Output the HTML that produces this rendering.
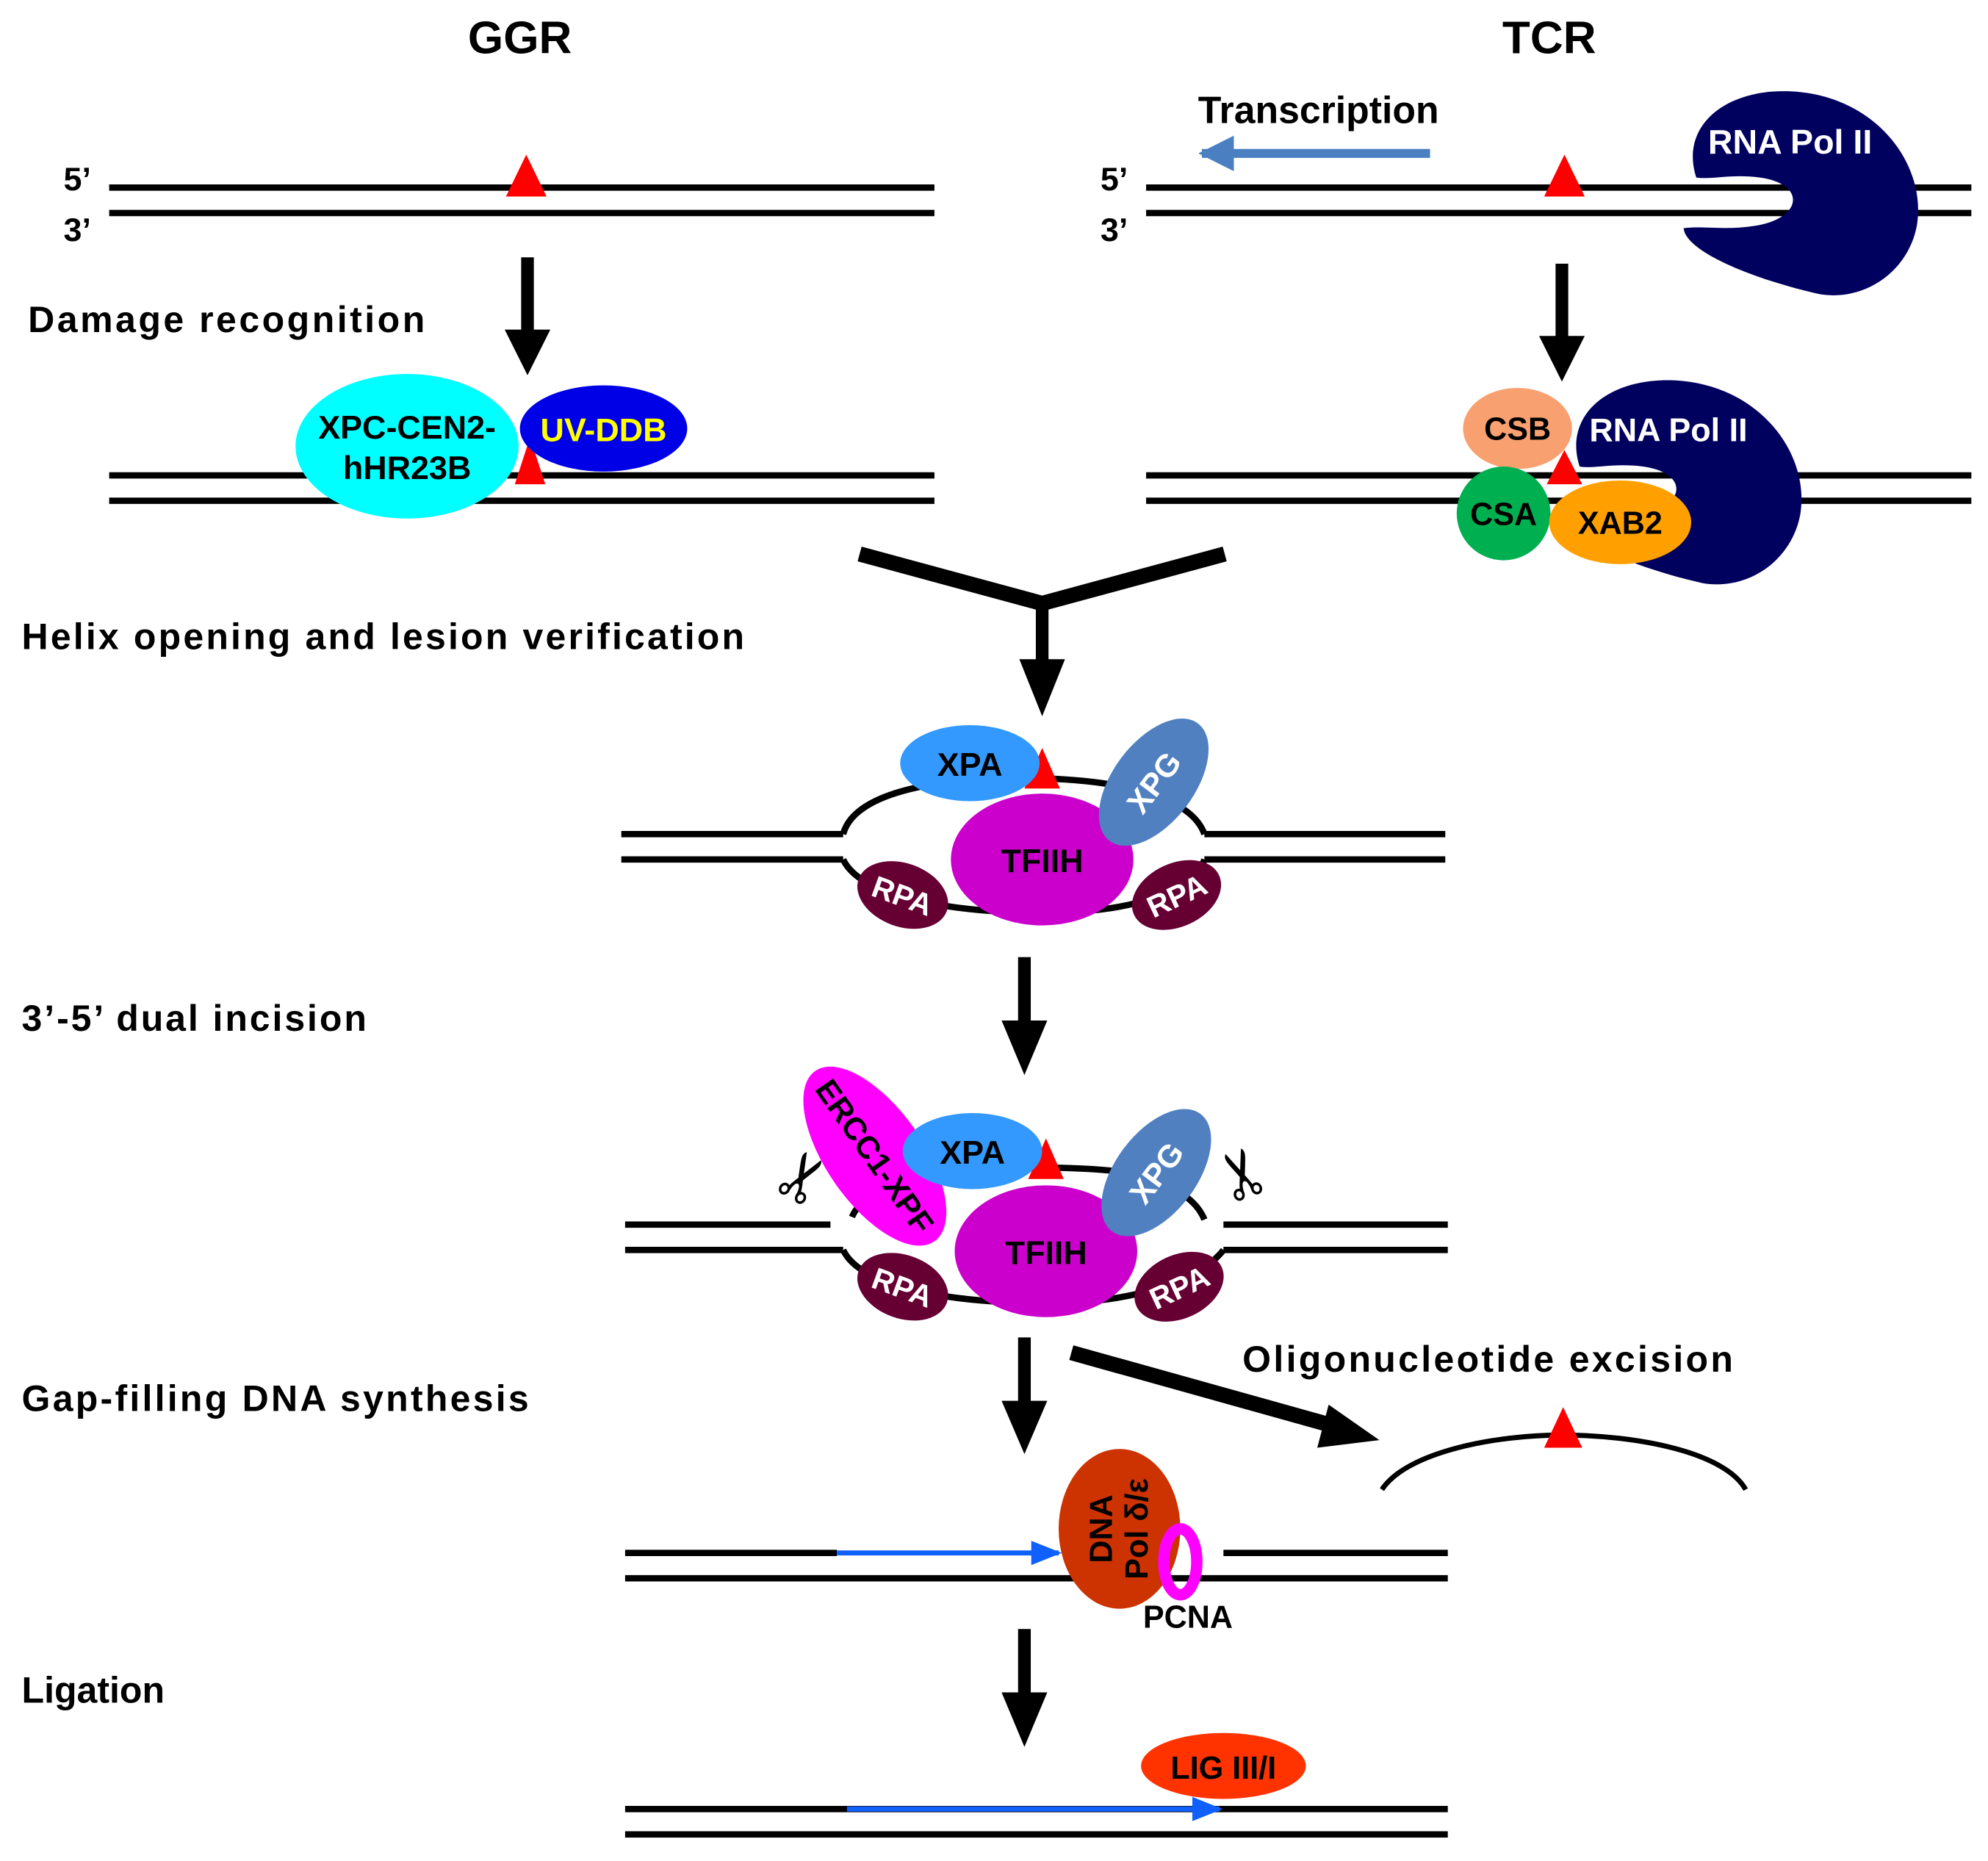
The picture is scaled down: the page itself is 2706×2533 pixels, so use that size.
<!DOCTYPE html>
<html><head><meta charset="utf-8"><style>html,body{margin:0;padding:0;background:#fff}svg{display:block}text{font-family:"Liberation Sans",sans-serif;font-weight:bold}</style></head><body>
<svg width="2706" height="2533" viewBox="0 0 1568 1468" xmlns="http://www.w3.org/2000/svg">
<defs>
<marker id="bh" viewBox="0 0 10 10" refX="9" refY="5" markerWidth="4" markerHeight="4" orient="auto" markerUnits="strokeWidth"><path d="M0,0L10,5L0,10z" fill="#4a7fc1"/></marker>
<marker id="bb" viewBox="0 0 10 10" refX="9" refY="5" markerWidth="6" markerHeight="6" orient="auto" markerUnits="strokeWidth"><path d="M0,1L10,5L0,9z" fill="#1060ff"/></marker>
<path id="pol" d="M1338,140 C1325,100 1360,70 1412,72 C1480,75 1520,130 1512,178 C1505,215 1470,238 1435,232 C1390,222 1330,200 1328,180 C1345,178 1360,182 1385,178 C1422,172 1425,145 1388,140 C1365,137 1350,142 1338,140 Z" fill="#00005f"/>
</defs>
<g fill="#000">
<text x="410" y="42" font-size="36" text-anchor="middle">GGR</text>
<text x="1222" y="42" font-size="36" text-anchor="middle">TCR</text>
<text x="1040" y="97" font-size="30" text-anchor="middle">Transcription</text>
<text x="50" y="150" font-size="26">5’</text>
<text x="50" y="190" font-size="26">3’</text>
<text x="868" y="150" font-size="26">5’</text>
<text x="868" y="190" font-size="26">3’</text>
<text x="22" y="262" font-size="29" textLength="313">Damage recognition</text>
<text x="17" y="512" font-size="29" textLength="570">Helix opening and lesion verification</text>
<text x="17" y="813" font-size="29" textLength="272">3’-5’ dual incision</text>
<text x="17" y="1113" font-size="29" textLength="400">Gap-filling DNA synthesis</text>
<text x="980" y="1082" font-size="29" textLength="387">Oligonucleotide excision</text>
<text x="17" y="1343" font-size="29">Ligation</text>
</g>
<g stroke="#000" stroke-width="5" fill="none">
<path d="M86 148H737M86 168H737M904 148H1555M904 168H1555"/>
<path d="M86 375H737M86 395H737M904 375H1555M904 395H1555"/>
</g>
<line x1="1128" y1="121" x2="948" y2="121" stroke="#4a7fc1" stroke-width="7" marker-end="url(#bh)"/>
<polygon points="415,122 399,155 431,155" fill="#f00"/>
<polygon points="1234,122 1218,155 1250,155" fill="#f00"/>
<!-- Pol II top -->
<use href="#pol"/>
<text x="1412" y="121" font-size="27" fill="#fff" text-anchor="middle">RNA Pol II</text>
<!-- arrows -->
<g fill="#000">
<rect x="411" y="203" width="10" height="58"/><polygon points="398,260 434,260 416,296"/>
<rect x="1227" y="208" width="10" height="58"/><polygon points="1214,265 1250,265 1232,301"/>
</g>
<!-- GGR row 2 -->
<polygon points="418,345 406,382 430,382" fill="#f00"/>
<ellipse cx="321" cy="352" rx="88" ry="57" fill="#00ffff"/>
<ellipse cx="476" cy="338" rx="66" ry="34" fill="#0000e6"/>
<text x="476" y="348" font-size="26" fill="#ffff00" text-anchor="middle">UV-DDB</text>
<text x="321" y="346" font-size="26" text-anchor="middle">XPC-CEN2-</text>
<text x="321" y="378" font-size="26" text-anchor="middle">hHR23B</text>
<!-- TCR row 2 -->
<use href="#pol" transform="translate(-92,228)"/>
<polygon points="1234,355 1220,382 1248,382" fill="#f00"/>
<ellipse cx="1197" cy="338" rx="43" ry="32" fill="#f8a070"/>
<text x="1197" y="347" font-size="25" text-anchor="middle">CSB</text>
<text x="1316" y="348" font-size="26" fill="#fff" text-anchor="middle">RNA Pol II</text>
<ellipse cx="1186" cy="405" rx="37" ry="37" fill="#00b050"/>
<text x="1186" y="414" font-size="25" text-anchor="middle">CSA</text>
<ellipse cx="1278" cy="412" rx="56" ry="33" fill="#ffa000"/>
<text x="1278" y="421" font-size="25" text-anchor="middle">XAB2</text>
<!-- merge -->
<path d="M678 437L822 476L966 437" stroke="#000" stroke-width="12" fill="none"/>
<rect x="817" y="474" width="10" height="48" fill="#000"/><polygon points="804,520 840,520 822,565" fill="#000"/>
<!-- Stage 1 bubble -->
<g stroke="#000" stroke-width="5" fill="none">
<path d="M490 658H665M490 678H665M950 658H1140M950 678H1140"/>
<path d="M665 658C675 620 760 612 822 614C890 616 940 630 950 658"/>
<path d="M665 678C680 710 760 720 822 720C890 720 940 705 950 678"/>
</g>
<polygon points="822,590 808,622 836,622" fill="#f00"/>
<ellipse cx="765" cy="602" rx="55" ry="30" fill="#3399ff"/>
<text x="765" y="612" font-size="26" text-anchor="middle">XPA</text>
<ellipse cx="822" cy="678" rx="72" ry="52" fill="#cc00cc"/>
<text x="822" y="688" font-size="26" text-anchor="middle">TFIIH</text>
<g transform="translate(910,617) rotate(37)"><ellipse rx="32" ry="58" fill="#5080c0"/><text y="9" font-size="25" fill="#fff" text-anchor="middle" transform="rotate(-90)">XPG</text></g>
<g transform="translate(712,706) rotate(20)"><ellipse rx="37" ry="25" fill="#660033"/><text y="9" font-size="24" fill="#fff" text-anchor="middle">RPA</text></g>
<g transform="translate(928,706) rotate(-25)"><ellipse rx="37" ry="25" fill="#660033"/><text y="9" font-size="24" fill="#fff" text-anchor="middle">RPA</text></g>
<rect x="803" y="755" width="10" height="52" fill="#000"/><polygon points="790,805 826,805 808,848" fill="#000"/>
<!-- Stage 2 -->
<g stroke="#000" stroke-width="5" fill="none">
<path d="M493 966H655M493 986H665M965 966H1142M965 986H1142"/>
<path d="M672 960C678 945 700 935 720 930M760 922C800 920 880 920 900 928M920 935C935 942 945 950 950 962"/>
<path d="M665 986C680 1018 760 1028 825 1028C890 1028 945 1012 965 986"/>
</g>
<polygon points="825,898 811,930 839,930" fill="#f00"/>
<g transform="translate(690,912) rotate(-35)"><ellipse rx="38" ry="82" fill="#ff00ff"/><text y="9" font-size="25" text-anchor="middle" transform="rotate(90)">ERCC1-XPF</text></g>
<ellipse cx="767" cy="908" rx="55" ry="30" fill="#3399ff"/>
<text x="767" y="918" font-size="26" text-anchor="middle">XPA</text>
<ellipse cx="825" cy="987" rx="72" ry="52" fill="#cc00cc"/>
<text x="825" y="997" font-size="26" text-anchor="middle">TFIIH</text>
<g transform="translate(912,925) rotate(37)"><ellipse rx="32" ry="58" fill="#5080c0"/><text y="9" font-size="25" fill="#fff" text-anchor="middle" transform="rotate(-90)">XPG</text></g>
<g transform="translate(712,1015) rotate(20)"><ellipse rx="37" ry="25" fill="#660033"/><text y="9" font-size="24" fill="#fff" text-anchor="middle">RPA</text></g>
<g transform="translate(930,1015) rotate(-25)"><ellipse rx="37" ry="25" fill="#660033"/><text y="9" font-size="24" fill="#fff" text-anchor="middle">RPA</text></g>
<text x="635" y="946" font-size="52" font-weight="normal" text-anchor="middle" transform="rotate(-60 635 930)" style="font-family:'DejaVu Sans',sans-serif">✂</text>
<text x="982" y="941" font-size="52" font-weight="normal" text-anchor="middle" transform="rotate(-110 982 925)" style="font-family:'DejaVu Sans',sans-serif">✂</text>
<!-- arrows -->
<rect x="803" y="1055" width="10" height="52" fill="#000"/><polygon points="790,1105 826,1105 808,1147" fill="#000"/>
<line x1="845" y1="1067" x2="1060" y2="1127" stroke="#000" stroke-width="12"/>
<polygon points="1048,1108 1088,1136 1039,1142" fill="#000"/>
<path d="M1090 1175C1110 1145 1180 1132 1232 1132C1290 1132 1360 1145 1377 1175" stroke="#000" stroke-width="4" fill="none"/>
<polygon points="1233,1110 1218,1142 1248,1142" fill="#f00"/>
<!-- Stage 3 -->
<g stroke="#000" stroke-width="5" fill="none">
<path d="M493 1225H660M965 1225H1142M493 1245H1142"/>
</g>
<line x1="660" y1="1225" x2="835" y2="1225" stroke="#1060ff" stroke-width="4" marker-end="url(#bb)"/>
<ellipse cx="883" cy="1206" rx="48" ry="63" fill="#cc3300"/>
<g transform="translate(883,1206) rotate(-90)"><text x="0" y="-6" font-size="25" text-anchor="middle">DNA</text><text x="0" y="22" font-size="25" text-anchor="middle">Pol δ/ε</text></g>
<ellipse cx="931" cy="1232" rx="13" ry="26" fill="none" stroke="#ff00ff" stroke-width="9"/>
<text x="937" y="1284" font-size="25" text-anchor="middle">PCNA</text>
<rect x="803" y="1285" width="10" height="52" fill="#000"/><polygon points="790,1335 826,1335 808,1378" fill="#000"/>
<!-- Stage 4 -->
<path d="M493 1427H1142M493 1447H1142" stroke="#000" stroke-width="5"/>
<line x1="668" y1="1427" x2="962" y2="1427" stroke="#1060ff" stroke-width="4" marker-end="url(#bb)"/>
<ellipse cx="965" cy="1393" rx="65" ry="26" fill="#ff3300"/>
<text x="965" y="1403" font-size="25" text-anchor="middle">LIG III/I</text>
</svg>
</body></html>
